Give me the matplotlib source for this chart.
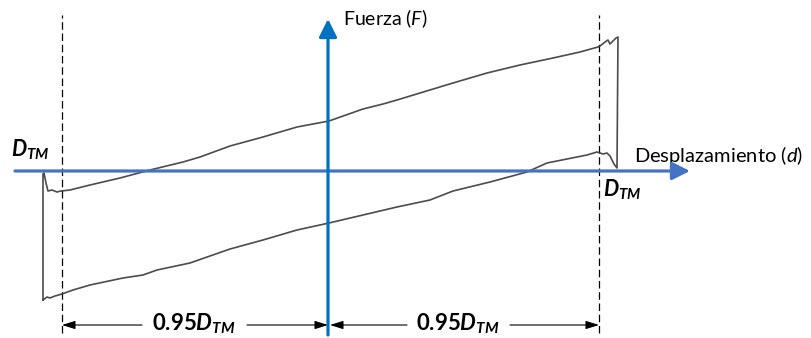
import numpy as np
import matplotlib.pyplot as plt

plt.rcParams['font.family'] = ['Lato', 'DejaVu Sans']
plt.rcParams['mathtext.fontset'] = 'custom'
plt.rcParams['mathtext.rm'] = 'Lato'
plt.rcParams['mathtext.it'] = 'Lato:italic'
plt.rcParams['mathtext.bf'] = 'Lato:bold'
plt.rcParams['mathtext.bfit'] = 'Lato:italic:bold'

# hysteresis loop (displacement d, force F)
# lower branch, left to right
d_low = [-285, -281, -278, -273, -266, -255, -238, -205, -185, -171, -138, -118, -98,
         -65, -31, 1, 35, 69, 102, 125, 162, 199, 219, 259, 269, 275, 279, 282, 286, 289]
F_low = [-129, -126, -127, -125, -123, -119, -114, -107, -104, -99, -92, -85, -78,
         -69, -59, -52, -44, -36, -29, -20, -11, -1, 8, 16, 19, 17, 18, 15, 7, 3]
# upper branch, right to left
d_up = [290, 288, 285, 282, 280, 277, 272, 270, 252, 225, 192, 159, 125, 92, 69, 55, 35,
        1, -31, -65, -98, -128, -145, -178, -208, -238, -258, -267, -271, -276, -280,
        -282, -283, -284, -285, -285]
F_up = [134, 133, 130, 127, 131, 129, 125, 124, 119, 113, 106, 98, 88, 78, 71, 67, 62,
        50, 44, 34, 25, 14, 9, 1, -7, -14, -19, -20, -21, -19, -20,
        -12, -7, -2, -3, -129]

# limits of the test (dashed lines) and axis extents
d_left, d_right = -266, 271
d_axis = (-313, 362)
F_axis = (-164, 152)
F_dash = (-162, 156)
F_dim = -154

fig = plt.figure(figsize=(8.12, 3.38), dpi=100)
ax = fig.add_axes([0, 0, 1, 1])
ax.set_xlim(-328, 484)
ax.set_ylim(-167, 171)
ax.axis('off')

# loop
ax.plot(d_low + d_up, F_low + F_up, color='#383838', lw=1.2, alpha=0.9,
        solid_joinstyle='round', zorder=3)

# dashed limits
for x in (d_left, d_right):
    ax.plot([x, x], F_dash, color='black', lw=0.9, ls=(0, (6, 3)), zorder=2)

# force and displacement axes
ax.annotate('', xy=(d_axis[1], 0), xytext=(d_axis[0], 0),
            arrowprops=dict(arrowstyle='-|>,head_length=0.9,head_width=0.45',
                            color='#4472C4', lw=2.3, shrinkA=0, shrinkB=0,
                            mutation_scale=12), zorder=4)
ax.annotate('', xy=(0, F_axis[1]), xytext=(0, F_axis[0]),
            arrowprops=dict(arrowstyle='-|>,head_length=0.9,head_width=0.45',
                            color='#0070C0', lw=2.3, shrinkA=0, shrinkB=0,
                            mutation_scale=12), zorder=5)

ax.text(15, 152, 'Fuerza ($F$)', fontsize=14, ha='left', va='center')
ax.text(306, 9, 'Desplazamiento ($d$)', fontsize=14.5, ha='left', va='baseline')

ax.text(-317, 14, r'$\mathbfit{D}_{\mathbfit{TM}}$', fontsize=15.5, ha='left', va='baseline')
ax.text(275, -26, r'$\mathbfit{D}_{\mathbfit{TM}}$', fontsize=15.5, ha='left', va='baseline')

# dimension lines 0.95 D_TM
dim_style = dict(arrowstyle='-|>,head_length=0.8,head_width=0.25', color='black',
                 lw=0.8, shrinkA=0, shrinkB=0, mutation_scale=10)
for (a, b, c, e), xc in (((d_left, -186, 0, -81), -134), ((2, 79, d_right, 182), 130)):
    ax.annotate('', xy=(a, F_dim), xytext=(b, F_dim), arrowprops=dim_style)
    ax.annotate('', xy=(c, F_dim), xytext=(e, F_dim), arrowprops=dim_style)
    ax.text(xc, F_dim + 1, r'$\mathbf{0.95}\mathbfit{D}_{\mathbfit{TM}}$', fontsize=16,
            ha='center', va='center')

fig.savefig('out.png', dpi=100)
